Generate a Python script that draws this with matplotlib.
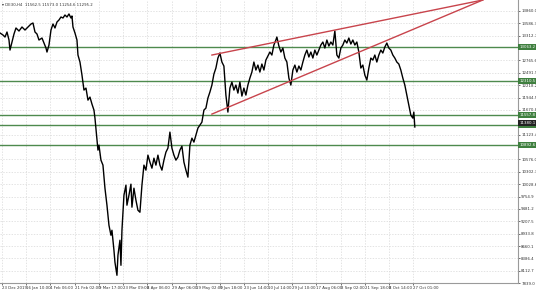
import matplotlib.pyplot as plt

# DE30 H4 - price path (bar position, close)
bars = [0, 3, 5, 7, 9, 10, 12, 14, 16, 19, 22, 25, 28, 31, 33, 35, 37, 39, 42, 44, 46, 47, 49, 51, 53, 55, 57,
        59, 61, 63, 65, 67, 69, 71, 72, 73, 75, 77, 78, 80, 82, 84, 86, 88, 90, 92, 94, 95, 97, 98, 99, 101, 103,
        105, 107, 109, 111, 112, 114, 115, 117, 118, 120, 121, 122, 124, 126, 127, 129, 131, 132, 134, 136, 138,
        140, 142, 144, 146, 148, 150, 152, 154, 156, 158, 160, 162, 164, 166, 168, 170, 172, 174, 176, 178, 180,
        182, 184, 186, 188, 190, 192, 194, 196, 198, 200, 202, 204, 206, 208, 210, 212, 214, 216, 218, 220, 222,
        224, 226, 228, 230, 232, 234, 236, 238, 240, 242, 244, 246, 248, 250, 252, 254, 256, 258, 260, 262, 264,
        266, 268, 270, 272, 274, 276, 277, 279, 281, 283, 285, 287, 289, 291, 293, 295, 297, 299, 301, 303, 305,
        307, 309, 311, 313, 315, 317, 319, 321, 323, 325, 327, 329, 331, 333, 335, 337, 339, 341, 343, 345, 347,
        349, 351, 353, 355, 357, 359, 361, 363, 365, 367, 369, 371, 373, 375, 377, 379, 381, 383, 385, 387, 389,
        391, 393, 395, 397, 399, 401, 403, 405, 407, 409, 411, 413, 414, 415]
close = [13373, 13329, 13284, 13395, 13218, 12996, 13174, 13351, 13484, 13417, 13506, 13439, 13506, 13572, 13594,
         13395, 13351, 13218, 13262, 13151, 13041, 12952, 13107, 13439, 13572, 13484, 13616, 13661, 13727, 13705,
         13771, 13727, 13794, 13705, 13749, 13506, 13373, 13218, 12886, 12731, 12443, 12111, 12155, 11889, 11956,
         11801, 11668, 11491, 11004, 10783, 10893, 10561, 10451, 9941, 9565, 9122, 8901, 9011, 8568, 8303, 8015,
         8458, 8790, 8236, 9011, 9786, 10008, 9565, 9786, 10030, 9521, 9941, 9675, 9454, 9410, 10008, 10451, 10340,
         10672, 10517, 10384, 10605, 10451, 10672, 10451, 10340, 10561, 10738, 10827, 11181, 10827, 10672, 10561,
         10628, 10783, 10871, 10517, 10340, 10185, 10893, 11048, 10960, 11115, 11270, 11336, 11402, 11668, 11712,
         11934, 12067, 12222, 12465, 12598, 12819, 12930, 12731, 12642, 12000, 11624, 12155, 12288, 12111, 12222,
         12044, 12288, 11978, 12155, 12000, 12222, 12377, 12509, 12731, 12554, 12664, 12509, 12687, 12554, 12775,
         12864, 12952, 12886, 13107, 13218, 13284, 13085, 12952, 13041, 12819, 12731, 12377, 12222, 12554, 12664,
         12509, 12642, 12554, 12731, 12886, 12996, 12842, 12952, 12819, 12996, 12886, 12996, 13107, 13174, 13041,
         13218, 13085, 13174, 13107, 13417, 12886, 12819, 13041, 13107, 13218, 13151, 13262, 13129, 13218, 13107,
         13174, 12952, 12598, 12664, 12443, 12332, 12598, 12819, 12775, 12886, 12731, 12886, 12996, 12930, 13063,
         13151, 13041, 12996, 12886, 12819, 12731, 12687, 12554, 12377, 12222, 12000, 11779, 11557, 11491, 11624,
         11295]

# horizontal support / resistance levels
levels = [13063.2, 12310.5, 11557.8, 11336.4, 10892.6]
bid = 11380.1

# rising wedge trendlines
trend_x = [212, 483]
trend_upper = [12886, 14103]
trend_lower = [11580, 14103]

date_labels = ['23 Dec 2019', '16 Jan 10:00', '4 Feb 06:00', '21 Feb 02:00', '9 Mar 17:00', '23 Mar 09:00',
               '8 Apr 06:00', '29 Apr 06:00', '19 May 02:00', '9 Jun 18:00', '23 Jun 14:00', '10 Jul 14:00',
               '29 Jul 10:00', '17 Aug 06:00', '3 Sep 02:00', '21 Sep 18:00', '8 Oct 14:00', '27 Oct 01:00']
date_pos = [2, 26, 50, 75, 99, 123, 147, 172, 196, 220, 244, 268, 292, 316, 341, 365, 389, 413]
price_ticks = [13860.0, 13586.3, 13312.7, 12765.6, 12491.9, 12218.2, 11944.5, 11670.8, 11123.4, 10576.0,
               10302.3, 10028.6, 9754.9, 9481.2, 9207.5, 8933.8, 8660.1, 8386.4, 8112.7, 7839.0]

fig = plt.figure(figsize=(5.36, 2.92), dpi=100)
ax = fig.add_axes([0.0, 0.03, 0.966, 0.97])

for yv in price_ticks:
    ax.axhline(yv, color='#d8d8d8', lw=0.5, ls=(0, (2, 2)), zorder=0)
for xv in date_pos:
    ax.axvline(xv, color='#d8d8d8', lw=0.5, ls=(0, (2, 2)), zorder=0)

for lv in levels:
    ax.axhline(lv, color='#4e8a4e', lw=1.0, zorder=2)
    ax.text(1.003, lv, f'{lv:.1f}', transform=ax.get_yaxis_transform(), fontsize=2.8, color='white',
            va='center', ha='left', clip_on=False,
            bbox=dict(boxstyle='square,pad=0.25', fc='#3f7f3f', ec='none'))
ax.text(1.003, bid, f'{bid:.1f}', transform=ax.get_yaxis_transform(), fontsize=2.8, color='white',
        va='center', ha='left', clip_on=False,
        bbox=dict(boxstyle='square,pad=0.25', fc='#222222', ec='none'))

ax.plot(bars, close, color='black', lw=1.0, zorder=3)
ax.plot(trend_x, trend_upper, color='#c8444c', lw=1.0, zorder=4)
ax.plot(trend_x, trend_lower, color='#c8444c', lw=1.0, zorder=4)

ax.set_xlim(0, 518)
ax.set_ylim(7840, 14103)

ax.yaxis.tick_right()
ax.set_yticks(price_ticks)
ax.set_yticklabels([f'{v:.1f}' for v in price_ticks])
ax.set_xticks(date_pos)
ax.set_xticklabels(date_labels, ha='left')
ax.tick_params(axis='both', labelsize=2.8, colors='#333333', length=1.5, width=0.5, pad=1)
ax.tick_params(axis='x', pad=0.8)

for s in ['left', 'top']:
    ax.spines[s].set_visible(False)
for s in ['right', 'bottom']:
    ax.spines[s].set_color('#9a9a9a')
    ax.spines[s].set_linewidth(0.8)

ax.text(0.004, 0.99, '\u25be DE30,H4  11562.5 11573.0 11254.6 11295.2', transform=ax.transAxes,
        fontsize=2.8, color='#333333', va='top', ha='left')

fig.savefig('out.png', dpi=100, facecolor='white')
